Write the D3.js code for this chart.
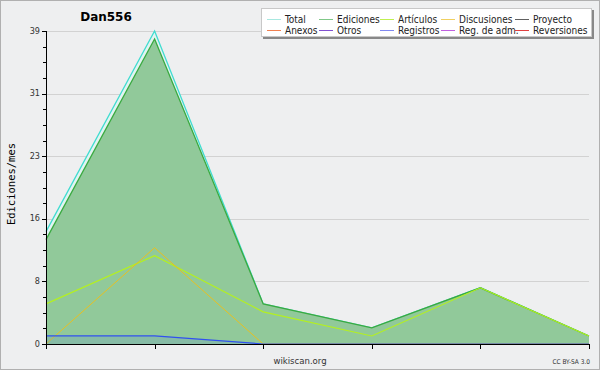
<!DOCTYPE html>
<html><head><meta charset="utf-8">
<script src="https://cdn.jsdelivr.net/npm/d3@7"></script>
<style>body{margin:0;background:#fff}svg{display:block}text{font-family:"DejaVu Sans Condensed","DejaVu Sans",sans-serif}</style>
</head><body><svg id="c" width="600" height="370"></svg>
<script>
const months = [0, 1, 2, 3, 4, 5];
const total = [14, 39, 5, 2, 7, 1];
const ediciones = [13, 38, 5, 2, 7, 1];
const articulos = [5, 11, 4, 1, 7, 1];
const discusiones = [0, 12, 0, 0, 0, 0];
const registros = [1, 1, 0, 0, 0, 0];
const yTicks = [0, 7.8, 15.6, 23.4, 31.2, 39];
const yTickLabels = ["0", "8", "16", "23", "31", "39"];
const legendNames = ["Total","Ediciones","Artículos","Discusiones","Proyecto","Anexos","Otros","Registros","Reg. de adm.","Reversiones"];
const legendColors = ["#a8e8e0","#80c888","#c0f050","#f0d060","#606060","#f08050","#8050d0","#8088f0","#c060e0","#e04040"];

const svg = d3.select("#c");
svg.append("rect").attr("x",0.5).attr("y",0.5).attr("width",599).attr("height",369).attr("fill","#eeeff0").attr("stroke","#b0b0b0");

const x = d3.scaleLinear().domain([0,5]).range([46,589]);
const y = d3.scaleLinear().domain([0,39]).range([344,31]);

// gridlines
svg.append("g").selectAll("line").data(yTicks.slice(1)).join("line")
  .attr("x1",46).attr("x2",589).attr("y1",d=>Math.round(y(d))+0.5).attr("y2",d=>Math.round(y(d))+0.5)
  .attr("stroke","#d2d2d2");

const area = arr => d3.area().x((d,i)=>x(months[i])).y0(y(0)).y1(d=>y(d))(arr);
const line = arr => d3.line().x((d,i)=>x(months[i])).y(d=>y(d))(arr);

svg.append("path").attr("d",area(total)).attr("fill","#e2f4f2");
svg.append("path").attr("d",line(total)).attr("fill","none").attr("stroke","#40dcd0").attr("stroke-width",1.3);
svg.append("path").attr("d",area(ediciones)).attr("fill","#91c99a");
svg.append("path").attr("d",line(ediciones)).attr("fill","none").attr("stroke","#3aaa40").attr("stroke-width",1.3);
svg.append("path").attr("d",line(articulos)).attr("fill","none").attr("stroke","#b4f020").attr("stroke-width",1.2);
svg.append("path").attr("d",line(discusiones)).attr("fill","none").attr("stroke","#e8c020").attr("stroke-width",1);
svg.append("path").attr("d",area(registros)).attr("fill","#4060ff").attr("fill-opacity",0.12);
svg.append("path").attr("d",line(registros)).attr("fill","none").attr("stroke","#3050f0").attr("stroke-width",1.2);

// axes
const yAxis = svg.append("g").attr("transform","translate(46,0)");
const minor = d3.range(0,40).map(i=>i*1.95).filter(v=>v<=39.01);
yAxis.selectAll("line.mn").data(minor).join("line")
  .attr("x1",-3).attr("x2",0).attr("y1",d=>Math.round(y(d))+0.5).attr("y2",d=>Math.round(y(d))+0.5).attr("stroke","#000");
yAxis.selectAll("line.mj").data(yTicks).join("line")
  .attr("x1",-4).attr("x2",0).attr("y1",d=>Math.round(y(d))+0.5).attr("y2",d=>Math.round(y(d))+0.5).attr("stroke","#000");
yAxis.selectAll("text").data(yTicks).join("text")
  .attr("x",-6).attr("y",d=>y(d)+2.5).attr("text-anchor","end").attr("font-size",9).attr("fill","#333")
  .text((d,i)=>yTickLabels[i]);
yAxis.append("line").attr("x1",0.5).attr("x2",0.5).attr("y1",31).attr("y2",345).attr("stroke","#000");

const xAxis = svg.append("g");
xAxis.append("line").attr("x1",46).attr("x2",590).attr("y1",344.5).attr("y2",344.5).attr("stroke","#000");
xAxis.selectAll("line.t").data(months).join("line")
  .attr("x1",d=>Math.round(x(d))+0.5).attr("x2",d=>Math.round(x(d))+0.5).attr("y1",344).attr("y2",349).attr("stroke","#000");

// texts
svg.append("text").attr("x",106).attr("y",21).attr("text-anchor","middle").attr("font-size",12).attr("font-weight","bold")
  .style("font-family","'DejaVu Sans',sans-serif").text("Dan556");
svg.append("text").attr("transform","translate(15,184) rotate(-90)").attr("text-anchor","middle").attr("font-size",10.5)
  .style("font-family","'DejaVu Sans Mono',monospace").text("Ediciones/mes");
svg.append("text").attr("x",300).attr("y",364).attr("text-anchor","middle").attr("font-size",9.5).attr("fill","#333").text("wikiscan.org");
svg.append("text").attr("x",590).attr("y",364).attr("text-anchor","end").attr("font-size",6.5).attr("fill","#333").text("CC BY-SA 3.0");

// legend
const lg = svg.append("g");
lg.append("rect").attr("x",263).attr("y",10).attr("width",331).attr("height",29).attr("fill","#888");
lg.append("rect").attr("x",261.5).attr("y",8.5).attr("width",330).attr("height",28).attr("fill","#fff").attr("stroke","#c8c8c8");
const colX = [267, 319, 380, 441, 515];
const items = lg.selectAll("g").data(legendNames).join("g")
  .attr("transform",(d,i)=>`translate(${colX[i%5]},${i<5?19:30})`);
items.append("line").attr("x1",0).attr("x2",14).attr("y1",0.5).attr("y2",0.5).attr("stroke",(d,i)=>legendColors[i]);
items.append("text").attr("x",18).attr("y",4).attr("font-size",10).attr("fill","#222").text(d=>d);
</script></body></html>
